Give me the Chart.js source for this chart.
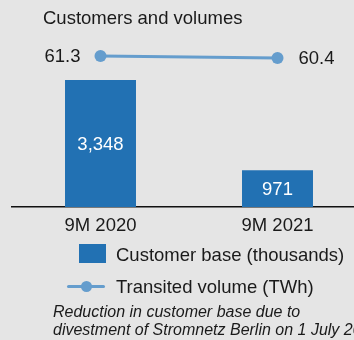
<!DOCTYPE html>
<html>
<head>
<meta charset="utf-8">
<script src="https://cdn.jsdelivr.net/npm/chart.js@4/dist/chart.umd.min.js"></script>
<style>
  html, body { margin: 0; padding: 0; background: #e5e5e5; overflow: hidden; width: 354px; height: 340px; }
  body { position: relative; font-family: "Liberation Sans", Arial, sans-serif; color: #1a1a1a; }
  #c { position: absolute; left: 0; top: 0; }
  .title { position: absolute; left: 43px; top: 7px; font-size: 18.5px; white-space: nowrap; }
  .leg { position: absolute; left: 116px; font-size: 18.5px; white-space: nowrap; line-height: 20px; }
  .sw-bar { position: absolute; left: 79px; top: 244px; width: 27px; height: 19px; background: #2271b3; }
  .sw-line { position: absolute; left: 67px; top: 285px; width: 38px; height: 3px; background: #659dcd; border-radius: 2px; }
  .sw-dot { position: absolute; left: 81px; top: 281px; width: 11px; height: 11px; border-radius: 50%; background: #659dcd; }
  .note { position: absolute; left: 53px; top: 303px; font-size: 16px; font-style: italic; line-height: 18px; white-space: nowrap; }
</style>
</head>
<body>
<canvas id="c" width="366" height="340"></canvas>
<div class="title">Customers and volumes</div>
<div class="sw-bar"></div>
<div class="leg" style="top:245px">Customer base (thousands)</div>
<div class="sw-line"></div><div class="sw-dot"></div>
<div class="leg" style="top:277px">Transited volume (TWh)</div>
<div class="note">Reduction in customer base due to<br>divestment of Stromnetz Berlin on 1 July 2021</div>
<script>
const categories = ['9M 2020', '9M 2021'];
const customerBase = [3348, 971];       // thousands
const transitedVolume = [61.3, 60.4];   // TWh

const barBlue = '#2271b3';
const lineBlue = '#659dcd';
const font = "'Liberation Sans', Arial, sans-serif";

// Value labels: white numbers inside bars, dark numbers beside line ends
const valueLabels = {
  id: 'valueLabels',
  afterDatasetsDraw(chart) {
    const ctx = chart.ctx;
    ctx.save();
    ctx.font = '18.5px ' + font;
    ctx.textBaseline = 'middle';
    const bars = chart.getDatasetMeta(0).data;
    bars.forEach((b, i) => {
      ctx.fillStyle = '#ffffff';
      ctx.textAlign = 'center';
      ctx.fillText(customerBase[i].toLocaleString('en-US'), b.x, (b.y + b.base) / 2 + 1);
    });
    const pts = chart.getDatasetMeta(1).data;
    ctx.fillStyle = '#1a1a1a';
    ctx.textAlign = 'right';
    ctx.fillText(transitedVolume[0].toFixed(1), pts[0].x - 20, pts[0].y + 1);
    ctx.textAlign = 'left';
    const last = pts.length - 1;
    ctx.fillText(transitedVolume[last].toFixed(1), pts[last].x + 21, pts[last].y + 1);
    ctx.restore();
  }
};

new Chart(document.getElementById('c'), {
  data: {
    labels: categories,
    datasets: [
      {
        type: 'bar',
        data: customerBase,
        backgroundColor: barBlue,
        barPercentage: 0.401,
        categoryPercentage: 1,
        yAxisID: 'y',
        order: 2
      },
      {
        type: 'line',
        data: transitedVolume,
        borderColor: lineBlue,
        backgroundColor: lineBlue,
        borderWidth: 3,
        pointRadius: 6,
        pointBackgroundColor: lineBlue,
        pointBorderWidth: 0,
        yAxisID: 'y1',
        order: 1
      }
    ]
  },
  options: {
    responsive: false,
    animation: false,
    layout: { autoPadding: false, padding: { left: 12, right: 0, top: 20, bottom: 0 } },
    plugins: { legend: { display: false }, tooltip: { enabled: false } },
    scales: {
      x: {
        grid: { display: false, drawTicks: false },
        border: { display: true, color: '#111111', width: 1.5 },
        ticks: { color: '#1a1a1a', font: { family: font, size: 18.5 }, padding: 8 },
        afterFit(scale) { scale.height = 133; }
      },
      y: { display: false, min: 0, max: 4930 },
      y1: { display: false, min: -6.6, max: 77.5 }
    }
  },
  plugins: [valueLabels]
});
</script>
</body>
</html>
